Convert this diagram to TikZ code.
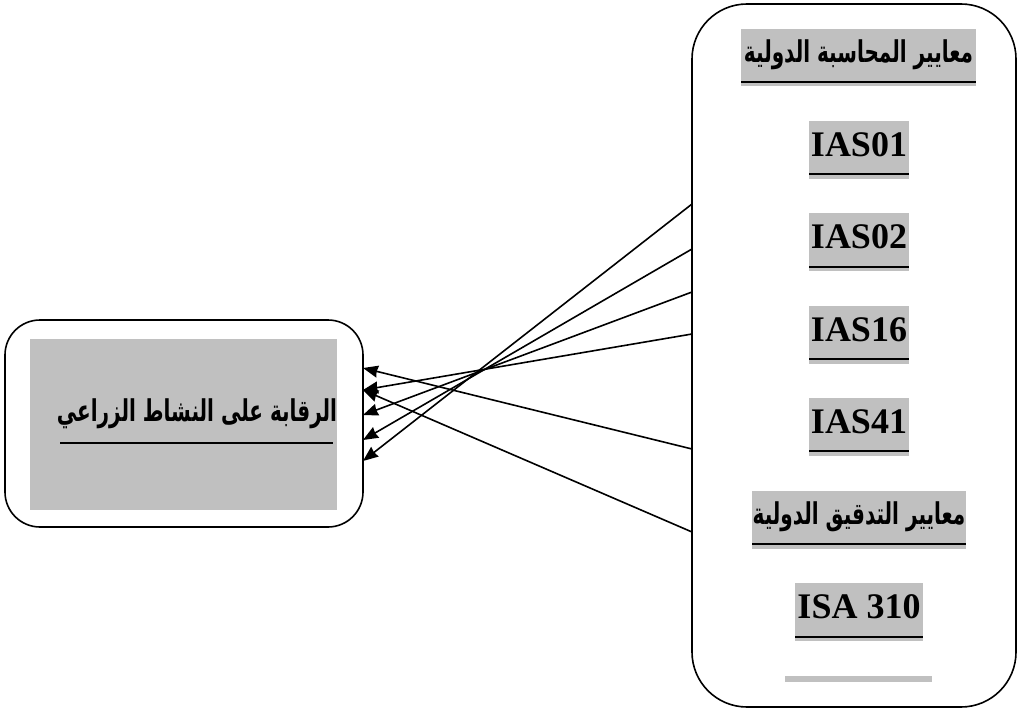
\documentclass[tikz,border=0pt]{standalone}
\usepackage{fontspec}
\setmainfont{Liberation Serif}
\newfontfamily\arabicfont[Script=Arabic]{DejaVu Sans}
\TeXXeTstate=1
\usetikzlibrary{arrows.meta}
\definecolor{boxgray}{RGB}{192,192,192}
\newcommand{\tallar}[1]{\scalebox{1}[1.5]{\arabicfont\beginR #1\endR}}
\tikzset{
  frame/.style={draw, line width=1.6pt},
  graybox/.style={fill=boxgray, draw=none, inner sep=0pt},
  uline/.style={line width=1.5pt},
  lat/.style={font=\bfseries\fontsize{36}{40}\selectfont, inner sep=0pt},
  arb/.style={font=\bfseries\fontsize{20}{24}\selectfont, inner sep=0pt},
  arrowlink/.style={draw, line width=1.6pt, -{Stealth[length=15pt,width=12pt,inset=1pt]}}
}
\begin{document}
\begin{tikzpicture}[x=1pt,y=1pt]
\useasboundingbox (0,0) rectangle (1019,-711);
% boxes
\draw[frame, rounded corners=55pt] (692,-4) rectangle (1016,-707);
\draw[frame, rounded corners=35pt] (5,-320) rectangle (363,-527);
\node[graybox, minimum width=307pt, minimum height=171pt] (L) at (183.5,-424.5) {};
\node[arb] (Lt) at (197,-414) {\tallar{الرقابة على النشاط الزراعي}};
\draw[uline] (60,-443) -- (333,-443);
% right items
\node[graybox, minimum width=235pt, minimum height=57pt] (g1) at (858.5,-57.5) {};
\node[arb] (t1) at (858.5,-55) {\tallar{معايير المحاسبة الدولية}};
\draw[uline] (741,-82) -- (976,-82);
\node[graybox, minimum width=100pt, minimum height=58pt] (g2) at (859,-150) {};
\node[lat] (t2) at (859,-145) {IAS01};
\draw[uline] (809,-174) -- (909,-174);
\node[graybox, minimum width=100pt, minimum height=58pt] (g3) at (859,-242) {};
\node[lat] (t3) at (859,-237) {IAS02};
\draw[uline] (809,-267) -- (909,-267);
\node[graybox, minimum width=100pt, minimum height=58pt] (g4) at (859,-334.5) {};
\node[lat] (t4) at (859,-329.5) {IAS16};
\draw[uline] (809,-359) -- (909,-359);
\node[graybox, minimum width=100pt, minimum height=58pt] (g5) at (859,-427) {};
\node[lat] (t5) at (859,-422) {IAS41};
\draw[uline] (809,-451) -- (909,-451);
\node[graybox, minimum width=214pt, minimum height=58pt] (g6) at (859,-520) {};
\node[arb] (t6) at (859,-517) {\tallar{معايير التدقيق الدولية}};
\draw[uline] (752,-544) -- (966,-544);
\node[graybox, minimum width=128pt, minimum height=58pt] (g7) at (859,-612) {};
\node[lat] (t7) at (859,-607) {ISA 310};
\draw[uline] (795,-637) -- (923,-637);
\node[graybox, minimum width=147pt, minimum height=6pt] (g8) at (858.5,-679) {};
% connector ends
\coordinate (s1) at (692,-204);
\coordinate (s2) at (692,-249);
\coordinate (s3) at (692,-292);
\coordinate (s4) at (692,-334);
\coordinate (s5) at (692,-449);
\coordinate (s6) at (692,-532);
\coordinate (e1) at (363,-368);
\coordinate (e2) at (363,-390);
\coordinate (e3) at (363,-415);
\coordinate (e4) at (363,-440);
\coordinate (e5) at (363,-461);
\draw[arrowlink] (s1) -- (e5);
\draw[arrowlink] (s2) -- (e4);
\draw[arrowlink] (s3) -- (e3);
\draw[arrowlink] (s4) -- (e2);
\draw[arrowlink] (s5) -- (e1);
\draw[arrowlink] (s6) -- (e2);
\end{tikzpicture}
\end{document}
